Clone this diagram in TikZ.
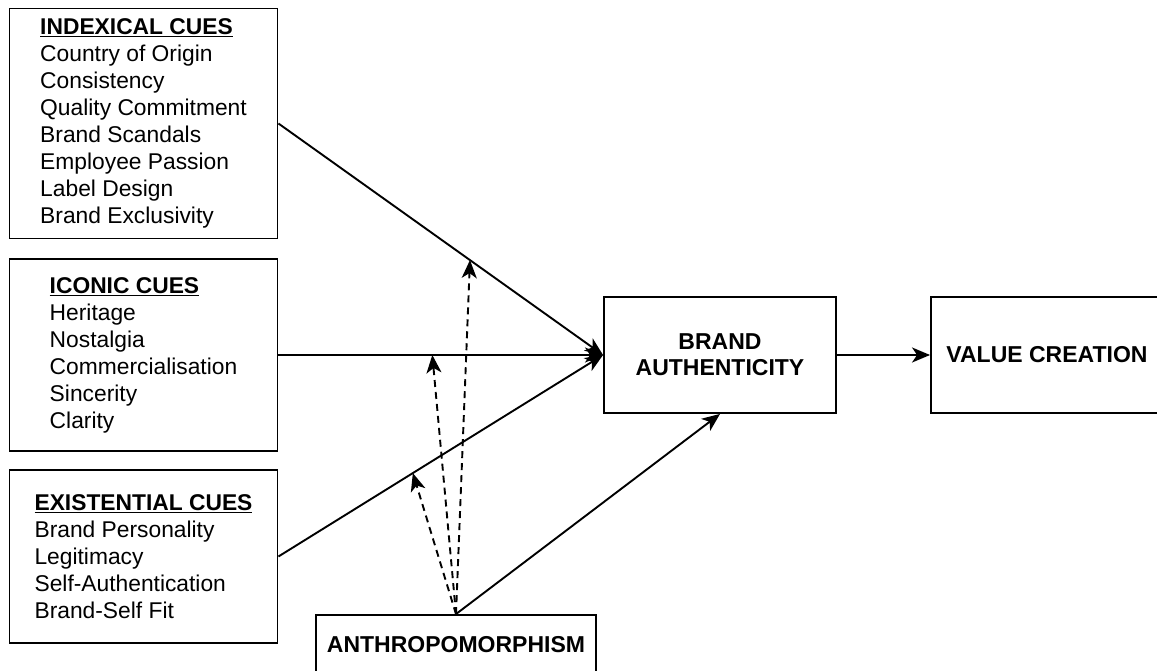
\documentclass[tikz,border=0pt]{standalone}
\usepackage{fontspec}
\setmainfont{Liberation Sans}
\usetikzlibrary{arrows.meta,calc}
\begin{document}
\begin{tikzpicture}[x=1pt,y=-1pt,
  cuebox/.style={draw, line width=1.9pt, align=left, inner sep=0pt,
    font=\fontsize{22.8}{27}\selectfont},
  keybox/.style={draw, line width=1.9pt, align=center, inner sep=0pt,
    font=\bfseries\fontsize{23}{26}\selectfont},
  tip/.style={-{Stealth[length=18pt,width=15pt,inset=5pt]}},
  link/.style={line width=1.9pt, tip},
  moderator/.style={line width=1.9pt, dash pattern=on 7pt off 5pt, tip}]
\clip (0,0) rectangle (1157,671);
\useasboundingbox (0,0) rectangle (1157,671);

% antecedent cue groups
\node[cuebox, minimum width=268pt, minimum height=230pt] (ind) at (143.5,123.5)
  {\textbf{\underline{INDEXICAL CUES}}\\Country of Origin\\Consistency\\Quality Commitment\\Brand Scandals\\Employee Passion\\Label Design\\Brand Exclusivity};
\node[cuebox, minimum width=268pt, minimum height=192pt] (ico) at (143.5,355)
  {\textbf{\underline{ICONIC CUES}}\\Heritage\\Nostalgia\\Commercialisation\\Sincerity\\Clarity};
\node[cuebox, minimum width=268pt, minimum height=173pt] (exi) at (143.5,556.5)
  {\textbf{\underline{EXISTENTIAL CUES}}\\Brand Personality\\Legitimacy\\Self-Authentication\\Brand-Self Fit};

% core constructs
\node[keybox, minimum width=232pt, minimum height=116pt] (ba) at (720,355) {BRAND\\AUTHENTICITY};
\node[keybox, minimum width=232pt, minimum height=116pt] (vc) at (1047,355) {VALUE CREATION};
\node[keybox, minimum width=280pt, minimum height=60pt] (ant) at (456,645) {ANTHROPOMORPHISM};

% direct effects
\draw[link] (ind.east) -- (ba.west);
\draw[link] (ico.east) -- (ba.west);
\draw[link] (exi.east) -- (ba.west);
\draw[link] (ba.east) -- (vc.west);
\draw[link] (ant.north) -- (ba.south);

% moderating effects of anthropomorphism
\coordinate (m1) at ($(ind.east)!0.59!(ba.west)$);
\coordinate (m2) at ($(ico.east)!0.474!(ba.west)$);
\coordinate (m3) at ($(exi.east)!0.414!(ba.west)$);
\draw[moderator] (ant.north) -- (m1);
\draw[moderator] (ant.north) -- (m2);
\draw[moderator] (ant.north) -- (m3);
\end{tikzpicture}
\end{document}
